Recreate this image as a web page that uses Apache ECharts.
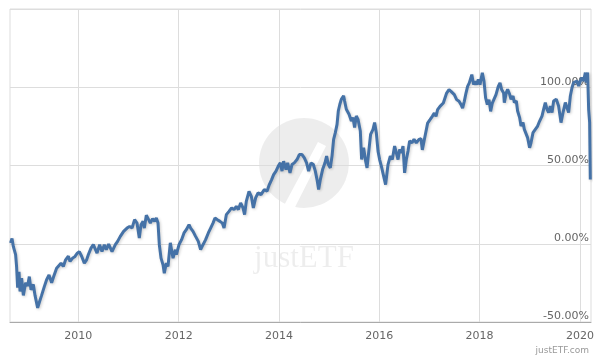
<!DOCTYPE html>
<html lang="en">
<head>
<meta charset="UTF-8">
<title>justETF performance</title>
<script src="https://cdn.jsdelivr.net/npm/echarts@6/dist/echarts.min.js"></script>
<style>
  body { margin: 0; padding: 0; background: #fff; }
  #chart { width: 600px; height: 360px; }
</style>
</head>
<body>
<div id="chart"></div>
<script>
// decimal years and cumulative performance in %
var years = [
  2008.650, 2008.678, 2008.704, 2008.750, 2008.770, 2008.790, 2008.818, 2008.838, 2008.870, 2008.904,
  2008.949, 2008.989, 2009.023, 2009.057, 2009.103, 2009.137, 2009.189, 2009.217, 2009.268, 2009.322,
  2009.368, 2009.416, 2009.468, 2009.502, 2009.567, 2009.601, 2009.655, 2009.701, 2009.747, 2009.801,
  2009.835, 2009.886, 2009.934, 2009.980, 2010.020, 2010.066, 2010.120, 2010.165, 2010.199, 2010.253,
  2010.299, 2010.373, 2010.425, 2010.472, 2010.518, 2010.558, 2010.604, 2010.672, 2010.738, 2010.783,
  2010.837, 2010.903, 2010.971, 2011.023, 2011.071, 2011.122, 2011.170, 2011.216, 2011.250, 2011.290,
  2011.316, 2011.356, 2011.402, 2011.435, 2011.481, 2011.521, 2011.555, 2011.589, 2011.615, 2011.649,
  2011.689, 2011.714, 2011.754, 2011.788, 2011.834, 2011.888, 2011.934, 2011.954, 2012.008, 2012.059,
  2012.107, 2012.153, 2012.207, 2012.239, 2012.287, 2012.338, 2012.392, 2012.438, 2012.486, 2012.538,
  2012.592, 2012.638, 2012.685, 2012.725, 2012.771, 2012.825, 2012.871, 2012.905, 2012.951, 2013.004,
  2013.056, 2013.104, 2013.150, 2013.190, 2013.236, 2013.283, 2013.315, 2013.349, 2013.403, 2013.449,
  2013.489, 2013.535, 2013.583, 2013.642, 2013.708, 2013.762, 2013.808, 2013.854, 2013.894, 2013.941,
  2013.987, 2014.027, 2014.061, 2014.093, 2014.141, 2014.173, 2014.220, 2014.260, 2014.306, 2014.360,
  2014.406, 2014.460, 2014.506, 2014.551, 2014.591, 2014.639, 2014.685, 2014.725, 2014.759, 2014.791,
  2014.825, 2014.870, 2014.918, 2014.950, 2014.984, 2015.024, 2015.058, 2015.090, 2015.124, 2015.158,
  2015.183, 2015.213, 2015.243, 2015.289, 2015.309, 2015.343, 2015.397, 2015.443, 2015.476, 2015.508,
  2015.542, 2015.576, 2015.596, 2015.622, 2015.648, 2015.688, 2015.728, 2015.756, 2015.795, 2015.827,
  2015.875, 2015.907, 2015.941, 2015.975, 2016.007, 2016.041, 2016.075, 2016.126, 2016.174, 2016.220,
  2016.260, 2016.306, 2016.340, 2016.374, 2016.405, 2016.439, 2016.473, 2016.505, 2016.539, 2016.573,
  2016.605, 2016.653, 2016.693, 2016.738, 2016.792, 2016.832, 2016.858, 2016.898, 2016.924, 2016.964,
  2017.012, 2017.057, 2017.097, 2017.131, 2017.163, 2017.211, 2017.243, 2017.277, 2017.311, 2017.343,
  2017.390, 2017.430, 2017.462, 2017.496, 2017.542, 2017.590, 2017.630, 2017.661, 2017.695, 2017.729,
  2017.761, 2017.795, 2017.829, 2017.845, 2017.879, 2017.909, 2017.941, 2017.974, 2018.008, 2018.054,
  2018.088, 2018.120, 2018.154, 2018.188, 2018.220, 2018.254, 2018.293, 2018.327, 2018.373, 2018.407,
  2018.439, 2018.479, 2018.493, 2018.533, 2018.559, 2018.599, 2018.627, 2018.667, 2018.692, 2018.732,
  2018.758, 2018.798, 2018.826, 2018.866, 2018.892, 2018.931, 2018.957, 2018.997, 2019.025, 2019.065,
  2019.111, 2019.157, 2019.197, 2019.244, 2019.276, 2019.310, 2019.344, 2019.376, 2019.410, 2019.444,
  2019.476, 2019.529, 2019.575, 2019.623, 2019.663, 2019.709, 2019.743, 2019.775, 2019.809, 2019.843,
  2019.875, 2019.908, 2019.942, 2019.974, 2020.008, 2020.042, 2020.074, 2020.108, 2020.128, 2020.154,
  2020.174, 2020.194, 2020.207
];
var values = [
  0.5, 3.4, -1.7, -7, -15, -28, -18, -30.5, -22, -33,
  -25, -27, -21, -29.5, -26, -33, -41, -38, -33, -27.4,
  -23, -20, -25, -21.6, -15.6, -16.7, -12.4, -14.5, -10.3, -8,
  -11.3, -9.2, -8.1, -6, -5, -8, -12.4, -10.3, -7, -2.8,
  -0.6, -6, -0.6, -5, -0.6, -3.8, -0.2, -5, -0.6, 1.5,
  4.7, 7.9, 10, 11.1, 10, 15.4, 13.2, 3.6, 12.2, 14.3,
  10, 18.2, 15.4, 13.2, 16, 14.3, 16.5, 13.2, -0.6, -9.2,
  -13.5, -18.8, -12.4, -14.5, 0.6, -9.2, -3.8, -7, -0.6, 2.6,
  6.9, 9, 12.2, 10, 7.9, 4.7, 1.5, -3.8, -0.6, 2.6,
  6.9, 10, 13.2, 16.5, 15.4, 14.3, 13.2, 10, 18.6, 20.7,
  22.9, 21.8, 23.9, 21.8, 26.1, 22.9, 18.6, 27.1, 33.5, 30.3,
  22.9, 29.3, 32.5, 31.4, 34.6, 33.5, 37.8, 41, 44.2, 46.4,
  49.6, 51.7, 46.4, 52.8, 47.4, 51.7, 45.3, 50.6, 51.7, 53.8,
  57, 57, 54.9, 51.7, 46.4, 51.7, 50.6, 46.4, 41, 34.6,
  41, 47.4, 51.7, 56, 50.6, 48.5, 56, 66.7, 71, 76.3,
  84.8, 89, 92.3, 94.5, 91.2, 85.9, 82.7, 78.4, 80.6, 74.2,
  81.6, 79.5, 80.6, 72, 53.8, 61.3, 52.8, 48.5, 60.3, 69.9,
  73.1, 77.4, 71, 59.2, 53.8, 49.6, 50.6, 37.8, 50.6, 56,
  53.8, 62.4, 58.1, 53.8, 60.3, 58.1, 62.4, 45.3, 53.8, 59.2,
  65.6, 64.5, 66.7, 64.5, 66.7, 67.1, 60, 66.5, 65.4, 77.1,
  79.3, 81.4, 83.5, 81.4, 85.7, 87.8, 86.7, 89.9, 91, 96.3,
  98.5, 97.4, 98.5, 95.3, 92.1, 91, 88.9, 86.7, 91, 96.3,
  100.6, 102.8, 101.7, 108.1, 101.7, 103.8, 101.7, 104.9, 101.7, 109.2,
  103.8, 93.2, 88.9, 92.1, 84.6, 89.9, 91, 95.3, 100.6, 102.8,
  98.5, 96.3, 90.2, 96.6, 98.7, 95.5, 92.3, 94.4, 90.2, 91.2,
  84.8, 80.6, 75.2, 77.4, 73.1, 72, 67.8, 61.3, 64.5, 71,
  73.1, 75.2, 78.4, 81.6, 85.9, 90.2, 85.9, 83.8, 88, 83.8,
  91.2, 92.3, 88, 77.4, 83.8, 90.2, 91.2, 83.8, 94.4, 99.8,
  103, 101.9, 104, 100.8, 104, 106.2, 104, 109.4, 103, 109.4,
  85.9, 77.4, 41
];
var yearTicks = [2010, 2012, 2014, 2016, 2018, 2020];

var chart = echarts.init(document.getElementById('chart'), null, { renderer: 'canvas' });

var seriesData = years.map(function (y, i) { return [y, values[i]]; });

chart.setOption({
  animation: false,
  textStyle: { fontFamily: 'DejaVu Sans' },
  grid: {
    left: 10, right: 9, top: 9, bottom: 38,
    show: true, borderColor: '#dddddd', borderWidth: 1
  },
  xAxis: {
    type: 'value',
    min: 2008.638,
    max: 2020.221,
    axisLine: { show: true, onZero: false, lineStyle: { color: '#aaaaaa', width: 1 } },
    axisTick: { show: false, customValues: yearTicks },
    axisLabel: {
      customValues: yearTicks,
      color: '#666666', fontSize: 11, margin: 9,
      formatter: function (v) { return String(Math.round(v)); }
    },
    splitLine: { show: true, lineStyle: { color: '#dddddd', width: 1 } }
  },
  yAxis: {
    type: 'value',
    position: 'right',
    min: -50, max: 150, interval: 50,
    axisLine: { show: false },
    axisTick: { show: false },
    axisLabel: {
      inside: true, margin: 2,
      showMaxLabel: false,
      color: '#666666', fontSize: 11,
      verticalAlign: 'bottom',
      formatter: function (v) { return v.toFixed(2) + '%'; }
    },
    splitLine: { show: true, lineStyle: { color: '#dddddd', width: 1 } }
  },
  graphic: [
    {
      type: 'group', z: 1, silent: true,
      children: [
        { type: 'circle', shape: { cx: 304, cy: 163, r: 45 }, style: { fill: 'rgba(0,0,0,0.07)' } },
        { type: 'polygon', shape: { points: [[280, 213], [292, 213], [326, 146], [318, 142]] }, style: { fill: '#ffffff' } },
        { type: 'text', x: 304, y: 243, style: { text: 'justETF', font: '31px "Liberation Serif"', fill: 'rgba(0,0,0,0.07)', align: 'center', verticalAlign: 'alphabetic' } }
      ]
    },
    {
      type: 'text', right: 11, top: 346, silent: true,
      style: { text: 'justETF.com', font: '9px "DejaVu Sans"', fill: '#999999' }
    }
  ],
  series: [{
    type: 'line',
    data: seriesData,
    showSymbol: false,
    z: 3,
    lineStyle: {
      color: '#4572A7', width: 3,
      shadowColor: 'rgba(0,0,0,0.2)', shadowBlur: 3, shadowOffsetX: 1, shadowOffsetY: 1
    }
  }]
});
</script>
</body>
</html>
